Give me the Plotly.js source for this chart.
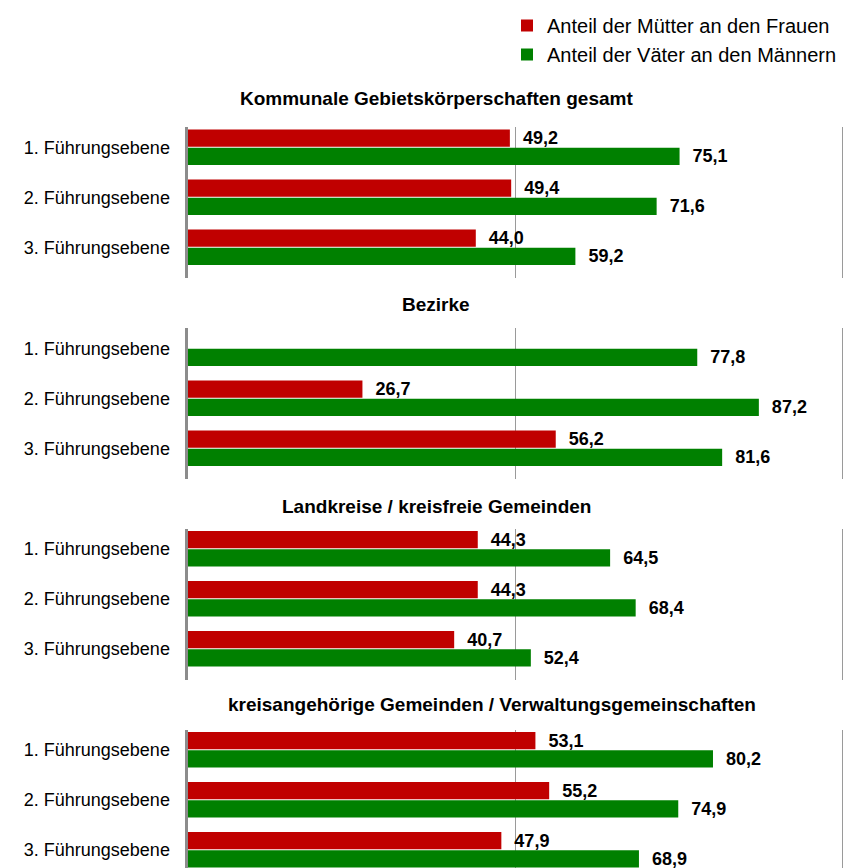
<!DOCTYPE html>
<html>
<head>
<meta charset="utf-8">
<script src="https://cdn.plot.ly/plotly-3.0.1.min.js"></script>
<style>html,body{margin:0;padding:0;background:#fff;}</style>
</head>
<body>
<div id="chart" style="width:851px;height:868px;"></div>
<script>
const categories = ['1. Führungsebene', '2. Führungsebene', '3. Führungsebene'];
const panelTitles = [
  'Kommunale Gebietskörperschaften gesamt',
  'Bezirke',
  'Landkreise / kreisfreie Gemeinden',
  'kreisangehörige Gemeinden / Verwaltungsgemeinschaften'
];
const seriesNames = ['Anteil der Mütter an den Frauen', 'Anteil der Väter an den Männern'];

const muetterGesamt = [49.2, 49.4, 44.0];
const vaeterGesamt = [75.1, 71.6, 59.2];
const muetterBezirke = [null, 26.7, 56.2];
const vaeterBezirke = [77.8, 87.2, 81.6];
const muetterLandkreise = [44.3, 44.3, 40.7];
const vaeterLandkreise = [64.5, 68.4, 52.4];
const muetterGemeinden = [53.1, 55.2, 47.9];
const vaeterGemeinden = [80.2, 74.9, 68.9];

const muetter = [muetterGesamt, muetterBezirke, muetterLandkreise, muetterGemeinden];
const vaeter = [vaeterGesamt, vaeterBezirke, vaeterLandkreise, vaeterGemeinden];

const RED = '#C00000';
const GREEN = '#008000';
const FONT = 'Liberation Sans, Arial, sans-serif';
const H = 868;

function fmt(v) {
  return v == null ? '' : '\u00a0\u00a0' + v.toFixed(1).replace('.', ',');
}

// pixel layout (from top)
const panelTopPx = [127.3, 328.2, 528.8, 729.8];
const panelBottomPx = [278.3, 479.2, 679.8, 868];
const titleYPx = [98, 304, 506, 704];
const titleXPx = [436, 436, 436, 492];

const traces = [];
const layout = {
  width: 851, height: 868,
  margin: {l: 0, r: 0, t: 0, b: 0},
  paper_bgcolor: '#fff', plot_bgcolor: '#fff',
  barmode: 'group',
  bargap: 0.274,
  bargroupgap: 0.05,
  font: {family: FONT, color: '#000'},
  showlegend: true,
  legend: {
    x: 507 / 851, xanchor: 'left',
    y: 1 - 6 / H, yanchor: 'top',
    font: {family: FONT, size: 20, color: '#000'},
    bgcolor: 'rgba(0,0,0,0)',
    tracegroupgap: 0
  },
  annotations: []
};

for (let p = 0; p < 4; p++) {
  const sfx = p === 0 ? '' : String(p + 1);
  const xa = 'x' + sfx, ya = 'y' + sfx;
  traces.push({
    type: 'bar', orientation: 'h',
    x: muetter[p], y: categories,
    xaxis: xa, yaxis: ya,
    name: seriesNames[0], showlegend: p === 0,
    marker: {color: RED, line: {width: 0}},
    text: muetter[p].map(fmt), textposition: 'outside',
    textfont: {family: FONT, size: 18, color: '#000', weight: 'bold'},
    constraintext: 'none', cliponaxis: false,
    hoverinfo: 'skip'
  });
  traces.push({
    type: 'bar', orientation: 'h',
    x: vaeter[p], y: categories,
    xaxis: xa, yaxis: ya,
    name: seriesNames[1], showlegend: p === 0,
    marker: {color: GREEN, line: {width: 0}},
    text: vaeter[p].map(fmt), textposition: 'outside',
    textfont: {family: FONT, size: 18, color: '#000', weight: 'bold'},
    constraintext: 'none', cliponaxis: false,
    hoverinfo: 'skip'
  });
  const yRange = p === 3 ? [-0.4 + (panelBottomPx[p] - panelTopPx[p]) / 50, -0.4] : [2.62, -0.4];
  layout['xaxis' + sfx] = {
    domain: [187.5 / 851, 846 / 851],
    range: [0, 100.5],
    anchor: ya,
    tickvals: [50, 100],
    showticklabels: false,
    showgrid: true, gridcolor: '#9a9a9a', gridwidth: 1,
    zeroline: false, showline: false, ticks: '',
    fixedrange: true
  };
  layout['yaxis' + sfx] = {
    domain: [1 - panelBottomPx[p] / H, 1 - panelTopPx[p] / H],
    anchor: xa,
    type: 'category',
    categoryarray: categories, categoryorder: 'array',
    range: yRange,
    showline: true, linecolor: '#8c8c8c', linewidth: 3,
    showgrid: false, zeroline: false, ticks: '',
    ticklabelstandoff: 11,
    tickfont: {family: FONT, size: 18, color: '#000'},
    fixedrange: true
  };
  layout.annotations.push({
    xref: 'paper', yref: 'paper',
    x: titleXPx[p] / 851, y: 1 - titleYPx[p] / H,
    xanchor: 'center', yanchor: 'middle',
    text: '<b>' + panelTitles[p] + '</b>',
    showarrow: false,
    font: {family: FONT, size: 19, color: '#000'}
  });
}

Plotly.newPlot('chart', traces, layout, {displayModeBar: false, staticPlot: true});
</script>
</body>
</html>
